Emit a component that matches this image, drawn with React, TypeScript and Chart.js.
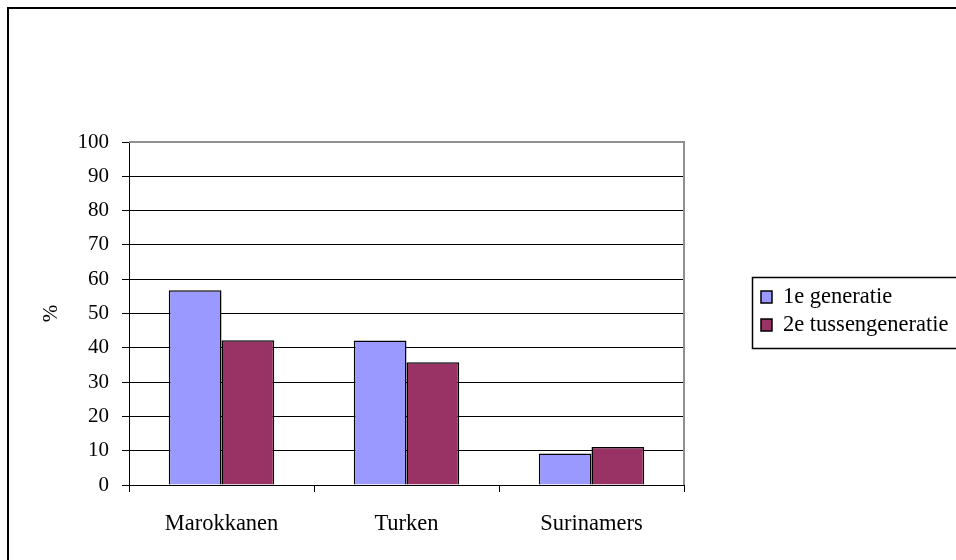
import React, { useEffect, useRef } from 'react';
import { Chart, registerables } from 'chart.js';

Chart.register(...registerables);

const categories = ['Marokkanen', 'Turken', 'Surinamers'];
const seriesLabels = ['1e generatie', '2e tussengeneratie'];
const gen1 = [56.8, 42.1, 9.2];
const gen2 = [42.2, 35.8, 11.1];
const yMin = 0;
const yMax = 100;
const yStep = 10;
const yTitle = '%';
const seriesColors = ['#9999FF', '#993366'];

const FONT = '"Liberation Serif", "Times New Roman", Times, serif';
const TICK_SIZE = 21;
const LABEL_SIZE = 22.5;

const framePlugin = {
  id: 'frame',
  beforeDraw(chart: any) {
    const ctx = chart.ctx;
    ctx.save();
    ctx.fillStyle = '#ffffff';
    ctx.fillRect(0, 0, chart.width, chart.height);
    ctx.strokeStyle = '#000000';
    ctx.lineWidth = 2;
    ctx.strokeRect(8, 8, chart.width + 20, chart.height + 20);
    ctx.restore();
  },
  beforeDatasetsDraw(chart: any) {
    const { ctx, chartArea } = chart;
    ctx.save();
    ctx.strokeStyle = '#909090';
    ctx.lineWidth = 2;
    ctx.beginPath();
    ctx.moveTo(chartArea.left, chartArea.top);
    ctx.lineTo(chartArea.right, chartArea.top);
    ctx.lineTo(chartArea.right, chartArea.bottom);
    ctx.stroke();
    ctx.restore();
  },
  afterDraw(chart: any) {
    const ctx = chart.ctx;
    ctx.save();
    ctx.strokeStyle = '#000000';
    ctx.lineWidth = 1.5;
    ctx.strokeRect(752.5, 277.5, 300, 71);
    ctx.font = `${LABEL_SIZE}px ${FONT}`;
    ctx.textBaseline = 'middle';
    ctx.textAlign = 'left';
    chart.data.datasets.forEach((ds: any, i: number) => {
      const cy = 297 + i * 28;
      ctx.fillStyle = ds.backgroundColor;
      ctx.fillRect(761, cy - 6, 11, 12);
      ctx.lineWidth = 1.5;
      ctx.strokeStyle = '#000000';
      ctx.strokeRect(761, cy - 6, 11, 12);
      ctx.fillStyle = '#000000';
      ctx.fillText(ds.label, 783, cy);
    });
    ctx.restore();
  },
};

export default function App() {
  const ref = useRef<HTMLCanvasElement | null>(null);

  useEffect(() => {
    if (!ref.current) return;
    const chart = new Chart(ref.current, {
      type: 'bar',
      data: {
        labels: categories,
        datasets: [
          {
            label: seriesLabels[0],
            data: gen1,
            backgroundColor: seriesColors[0],
            borderColor: '#000000',
            borderWidth: 1.5,
            barPercentage: 1,
            categoryPercentage: 0.57,
          },
          {
            label: seriesLabels[1],
            data: gen2,
            backgroundColor: seriesColors[1],
            borderColor: '#000000',
            borderWidth: 1.5,
            barPercentage: 1,
            categoryPercentage: 0.57,
          },
        ],
      },
      options: {
        animation: false,
        responsive: false,
        maintainAspectRatio: false,
        layout: { padding: { left: 0, top: 142, right: 272, bottom: 0 } },
        plugins: {
          legend: { display: false },
          tooltip: { enabled: false },
        },
        scales: {
          x: {
            offset: true,
            grid: {
              display: true,
              drawOnChartArea: false,
              drawTicks: true,
              tickLength: 7,
              tickColor: '#000000',
              offset: true,
            },
            border: { display: true, color: '#000000', width: 1 },
            ticks: {
              color: '#000000',
              font: { family: FONT, size: LABEL_SIZE },
              padding: 19,
              maxRotation: 0,
            },
            afterFit(scale: any) {
              scale.height = 75;
            },
          },
          y: {
            min: yMin,
            max: yMax,
            grid: {
              color: (c: any) => (c.tick && c.tick.value === yMax ? '#909090' : '#000000'),
              tickColor: '#000000',
              tickLength: 7,
              lineWidth: 1,
            },
            border: { display: true, color: '#000000', width: 1 },
            ticks: {
              stepSize: yStep,
              color: '#000000',
              font: { family: FONT, size: TICK_SIZE },
              padding: 13,
            },
            title: {
              display: true,
              text: yTitle,
              color: '#000000',
              font: { family: FONT, size: TICK_SIZE },
              padding: { top: 39, bottom: 0 },
            },
            afterFit(scale: any) {
              scale.width = 129;
            },
          },
        },
      },
      plugins: [framePlugin],
    });
    let alive = true;
    if ((document as any).fonts && (document as any).fonts.load) {
      (document as any).fonts
        .load(`${TICK_SIZE}px "Liberation Serif"`)
        .then(() => {
          if (alive) chart.update();
        })
        .catch(() => {});
    }
    return () => {
      alive = false;
      chart.destroy();
    };
  }, []);

  return (
    <div style={{ position: 'absolute', left: 0, top: 0, width: 956, height: 560 }}>
      <canvas ref={ref} width={956} height={560} style={{ display: 'block' }} />
    </div>
  );
}
